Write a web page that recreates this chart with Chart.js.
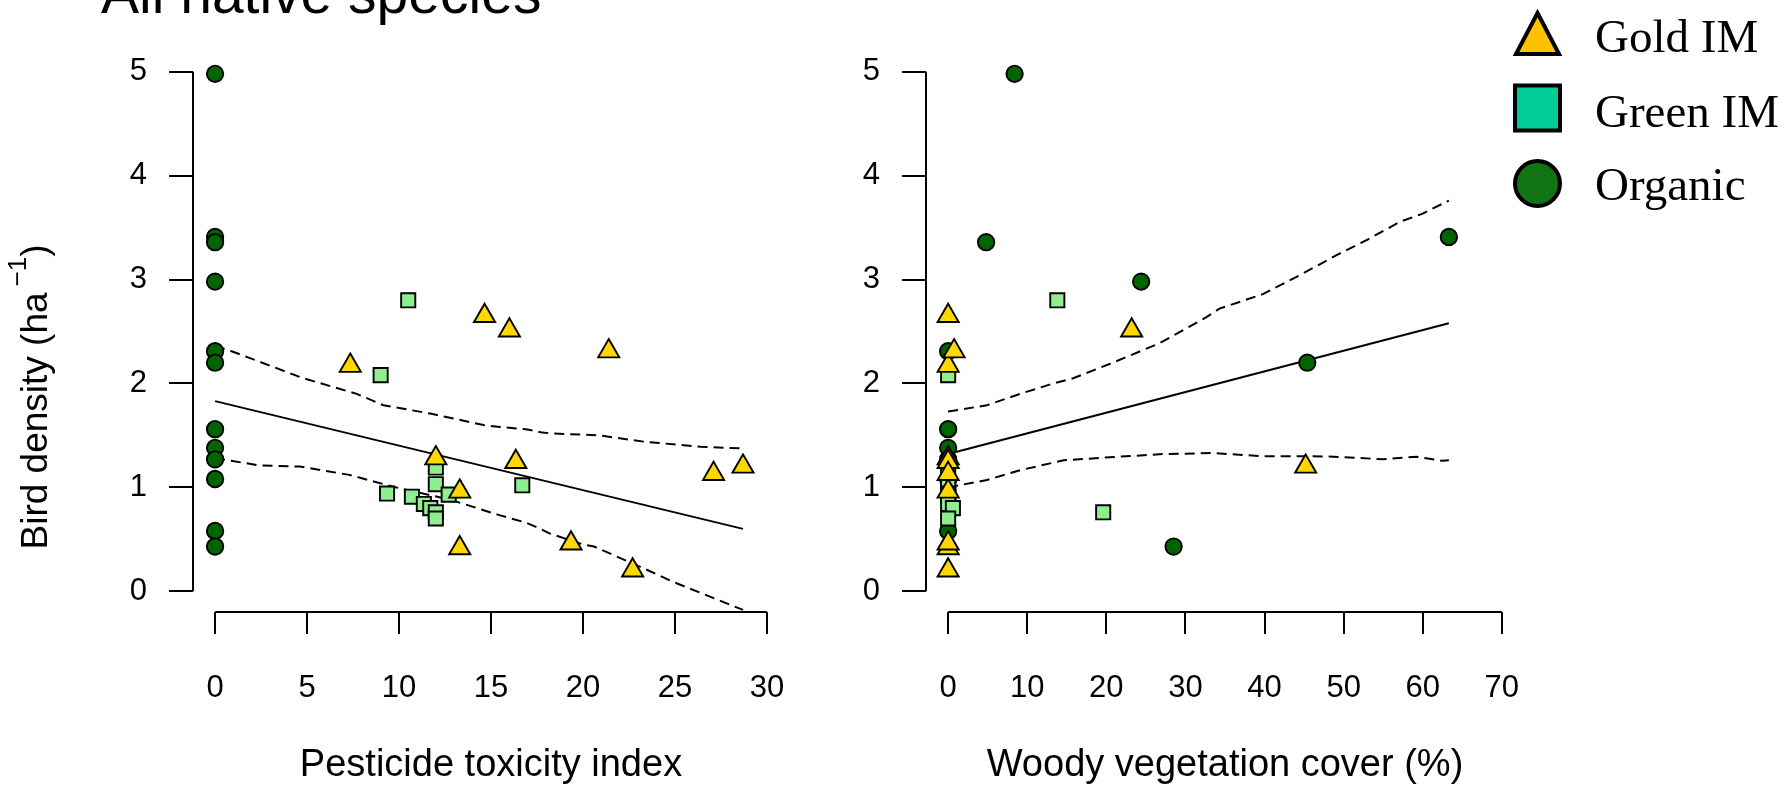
<!DOCTYPE html>
<html>
<head>
<meta charset="utf-8">
<title>All native species</title>
<script src="https://cdn.jsdelivr.net/npm/chart.js@4.4.1/dist/chart.umd.min.js"></script>
<style>
  html, body { margin: 0; padding: 0; background: #ffffff; }
  body { position: relative; width: 1785px; height: 788px; overflow: hidden; }
  canvas { position: absolute; top: 0; }
  #pesticideChart { left: 0; }
  #woodyChart { left: 800px; }
</style>
</head>
<body>
<canvas id="pesticideChart" width="840" height="788"></canvas>
<canvas id="woodyChart" width="985" height="788"></canvas>
<script>
'use strict';

// bird density (ha-1) per site
var organicDensity   = [4.98, 3.41, 3.36, 2.98, 2.31, 2.20, 1.56, 1.38, 1.27, 1.08, 0.58, 0.43];
var organicPesticide = [0, 0, 0, 0, 0, 0, 0, 0, 0, 0, 0, 0];
var organicWoody     = [8.4, 63.3, 4.8, 24.4, 0, 45.4, 0, 0, 0, 0, 0, 28.5];

var greenDensity   = [2.80, 2.08, 1.19, 1.03, 0.93, 1.02, 0.94, 0.91, 0.84, 0.80, 0.76, 0.70];
var greenPesticide = [10.5, 9.0, 12.0, 12.0, 12.7, 16.7, 9.35, 10.7, 11.35, 11.7, 12.0, 12.0];
var greenWoody     = [13.8, 0, 0, 0, 0, 0, 0, 0, 0, 0.6, 19.6, 0];

var goldDensity   = [2.17, 2.65, 2.51, 2.31, 1.28, 0.96, 1.245, 0.415, 0.46, 0.20, 1.13, 1.20];
var goldPesticide = [7.35, 14.65, 16.0, 21.4, 12.0, 13.3, 16.35, 13.3, 19.35, 22.7, 27.1, 28.7];
var goldWoody     = [0, 0, 23.2, 0.75, 0, 0, 0, 0, 0, 0, 0, 45.2];

// fitted line and dashed confidence band, pesticide panel
var pestFitX = [0, 28.7];
var pestFitY = [1.83, 0.60];
var pestUpperX = [0, 0.9, 4.8, 7.7, 9.15, 11.7, 14.6, 15.5, 16.9, 17.7, 18.2, 20.9, 23.3, 26.4, 28.7];
var pestUpperY = [2.36, 2.31, 2.05, 1.90, 1.79, 1.71, 1.60, 1.58, 1.56, 1.53, 1.52, 1.50, 1.44, 1.39, 1.375];
var pestLowerX = [0, 2.45, 4.6, 7.3, 9.7, 12.8, 15.5, 16.9, 17.7, 18.2, 20.0, 20.6, 23.3, 24.9, 28.7];
var pestLowerY = [1.28, 1.21, 1.20, 1.12, 1.005, 0.88, 0.73, 0.66, 0.60, 0.555, 0.45, 0.43, 0.22, 0.09, -0.18];

// fitted line and dashed confidence band, woody cover panel
var woodFitX = [0, 63.3];
var woodFitY = [1.32, 2.58];
var woodUpperX = [0, 4.9, 9.1, 13.3, 15.8, 20.5, 26.8, 32.7, 34.3, 39.8, 44.4, 49.1, 52.9, 57.1, 60.0, 62.5, 63.3];
var woodUpperY = [1.73, 1.79, 1.90, 2.00, 2.05, 2.19, 2.39, 2.64, 2.72, 2.86, 3.04, 3.235, 3.38, 3.555, 3.635, 3.73, 3.76];
var woodLowerX = [0, 4.9, 9.1, 14.6, 20.5, 27.2, 33.5, 39.8, 44.9, 48.7, 55.0, 59.2, 62.5, 63.3];
var woodLowerY = [1.00, 1.07, 1.165, 1.26, 1.29, 1.32, 1.33, 1.30, 1.30, 1.295, 1.27, 1.295, 1.255, 1.26];

var densityTicks   = [0, 1, 2, 3, 4, 5];
var pesticideTicks = [0, 5, 10, 15, 20, 25, 30];
var woodyTicks     = [0, 10, 20, 30, 40, 50, 60, 70];
var legendLabels   = ['Gold IM', 'Green IM', 'Organic'];

var SANS = '"Liberation Sans", Arial, Helvetica, sans-serif';
var SERIF = '"Liberation Serif", "Times New Roman", serif';
var GOLD = '#ffd700', LIGHT_GREEN = '#90ee90', DARK_GREEN = '#006400';

function points(xs, ys) {
  return xs.map(function(x, i) { return {x: x, y: ys[i]}; });
}

function setTicks(values) {
  return function(axis) {
    axis.ticks = values.map(function(v) { return {value: v}; });
  };
}

// axis lines only run from the first to the last tick (R style)
var axisLines = {
  id: 'axisLines',
  afterDraw: function(chart) {
    var ctx = chart.ctx, xs = chart.scales.x, ys = chart.scales.y, area = chart.chartArea;
    var xt = xs.ticks, yt = ys.ticks;
    ctx.save();
    ctx.strokeStyle = '#000';
    ctx.lineWidth = 2;
    ctx.beginPath();
    ctx.moveTo(area.left, ys.getPixelForValue(yt[0].value));
    ctx.lineTo(area.left, ys.getPixelForValue(yt[yt.length - 1].value));
    ctx.moveTo(xs.getPixelForValue(xt[0].value), area.bottom);
    ctx.lineTo(xs.getPixelForValue(xt[xt.length - 1].value), area.bottom);
    ctx.stroke();
    ctx.restore();
  }
};

// cut-off figure title and the y axis title with its superscript
var leftTexts = {
  id: 'leftTexts',
  afterDraw: function(chart) {
    var ctx = chart.ctx;
    ctx.save();
    ctx.fillStyle = '#000';
    ctx.textBaseline = 'alphabetic';
    ctx.font = '57px ' + SANS;
    ctx.fillText('All native species', 101, 13);

    var main = 'Bird density (ha', sup = '\u22121', close = ')';
    ctx.translate(47, 397);
    ctx.rotate(-Math.PI / 2);
    ctx.font = '37px ' + SANS;
    var w1 = ctx.measureText(main).width, w3 = ctx.measureText(close).width;
    ctx.font = '26px ' + SANS;
    var w2 = ctx.measureText(sup).width;
    var gap = 6;
    var x = -(w1 + gap + w2 + w3) / 2;
    ctx.font = '37px ' + SANS;
    ctx.fillText(main, x, 0);
    x += w1 + gap;
    ctx.font = '26px ' + SANS;
    ctx.fillText(sup, x, -21);
    x += w2;
    ctx.font = '37px ' + SANS;
    ctx.fillText(close, x, 0);
    ctx.restore();
  }
};

// legend in the top right corner (its own colours, bigger marks, serif text)
var legendBox = {
  id: 'legendBox',
  afterDraw: function(chart) {
    var ctx = chart.ctx;
    var cx = 737.5;
    ctx.save();
    ctx.lineWidth = 4;
    ctx.strokeStyle = '#000';

    ctx.beginPath();
    ctx.moveTo(cx, 13);
    ctx.lineTo(cx + 21.5, 54);
    ctx.lineTo(cx - 21.5, 54);
    ctx.closePath();
    ctx.fillStyle = '#ffc000';
    ctx.fill();
    ctx.stroke();

    ctx.beginPath();
    ctx.rect(cx - 22.5, 85.5, 45, 45);
    ctx.fillStyle = '#00cc99';
    ctx.fill();
    ctx.stroke();

    ctx.beginPath();
    ctx.arc(cx, 183.5, 22.5, 0, Math.PI * 2);
    ctx.fillStyle = '#127312';
    ctx.fill();
    ctx.stroke();

    ctx.fillStyle = '#000';
    ctx.font = '47px ' + SERIF;
    ctx.textBaseline = 'alphabetic';
    ctx.fillText(legendLabels[0], 795, 52);
    ctx.fillText(legendLabels[1], 795, 127);
    ctx.fillText(legendLabels[2], 795, 200);
    ctx.restore();
  }
};

function makePanel(id, o) {
  return new Chart(document.getElementById(id), {
    type: 'scatter',
    data: {
      datasets: [{
        label: legendLabels[0],
        data: points(o.goldX, goldDensity),
        pointStyle: 'triangle', pointRadius: 12.2,
        pointBackgroundColor: GOLD, pointBorderColor: '#000', pointBorderWidth: 1.9,
        order: 0
      }, {
        label: legendLabels[1],
        data: points(o.greenX, greenDensity),
        pointStyle: 'rect', pointRadius: 10,
        pointBackgroundColor: LIGHT_GREEN, pointBorderColor: '#000', pointBorderWidth: 1.9,
        order: 1
      }, {
        label: legendLabels[2],
        data: points(o.organicX, organicDensity),
        pointStyle: 'circle', pointRadius: 8.2,
        pointBackgroundColor: DARK_GREEN, pointBorderColor: '#000', pointBorderWidth: 1.9,
        order: 2
      }, {
        type: 'line', label: 'fit',
        data: points(o.fitX, o.fitY),
        borderColor: '#000', borderWidth: 2, pointRadius: 0, fill: false,
        order: 3
      }, {
        type: 'line', label: 'upper',
        data: points(o.upX, o.upY),
        borderColor: '#000', borderWidth: 2, borderDash: [10, 6], pointRadius: 0, fill: false,
        order: 4
      }, {
        type: 'line', label: 'lower',
        data: points(o.loX, o.loY),
        borderColor: '#000', borderWidth: 2, borderDash: [10, 6], pointRadius: 0, fill: false,
        order: 5
      }]
    },
    options: {
      responsive: false,
      animation: false,
      events: [],
      layout: {padding: {top: 51, right: o.padRight, bottom: 0, left: 0}},
      plugins: {legend: {display: false}, tooltip: {enabled: false}},
      scales: {
        x: {
          type: 'linear', min: o.xMin, max: o.xMax,
          afterBuildTicks: setTicks(o.xTicks),
          afterFit: function(s) { s.height = 176; },
          border: {display: false},
          grid: {drawOnChartArea: false, tickLength: 22, color: '#000', lineWidth: 2},
          ticks: {color: '#000', font: {family: SANS, size: 31}, padding: 36, maxRotation: 0, autoSkip: false},
          title: {display: true, text: o.xTitle, color: '#000',
                  font: {family: SANS, size: 38, lineHeight: 1}, padding: {top: 0, bottom: 3}}
        },
        y: {
          type: 'linear', min: -0.2, max: 5.2,
          afterBuildTicks: setTicks(densityTicks),
          afterFit: function(s) { s.width = o.yWidth; },
          border: {display: false},
          grid: {drawOnChartArea: false, tickLength: 24, color: '#000', lineWidth: 2},
          ticks: {color: '#000', font: {family: SANS, size: 31}, padding: 22}
        }
      }
    },
    plugins: o.plugins
  });
}

makePanel('pesticideChart', {
  goldX: goldPesticide, greenX: greenPesticide, organicX: organicPesticide,
  fitX: pestFitX, fitY: pestFitY, upX: pestUpperX, upY: pestUpperY, loX: pestLowerX, loY: pestLowerY,
  xMin: -1.2, xMax: 31.2, xTicks: pesticideTicks, xTitle: 'Pesticide toxicity index',
  yWidth: 193, padRight: 51,
  plugins: [axisLines, leftTexts]
});

makePanel('woodyChart', {
  goldX: goldWoody, greenX: greenWoody, organicX: organicWoody,
  fitX: woodFitX, fitY: woodFitY, upX: woodUpperX, upY: woodUpperY, loX: woodLowerX, loY: woodLowerY,
  xMin: -2.8, xMax: 72.8, xTicks: woodyTicks, xTitle: 'Woody vegetation cover (%)',
  yWidth: 126, padRight: 261,
  plugins: [axisLines, legendBox]
});
</script>
</body>
</html>
